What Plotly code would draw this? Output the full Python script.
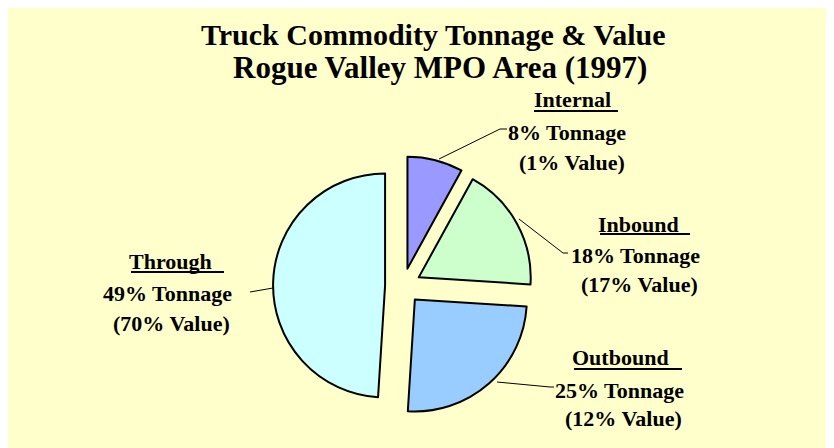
import plotly.graph_objects as go

W, H = 834, 448
OX, OY = 8, 8  # page body margin offset of the figure on screen

# ---- data ----
categories = ["Internal", "Inbound", "Outbound", "Through"]
tonnage_pct = [8, 18, 25, 49]
value_pct = [1, 17, 12, 70]
colors = ["#9999FF", "#CCFFCC", "#99CCFF", "#CCFFFF"]
title_lines = ["Truck Commodity Tonnage & Value", "Rogue Valley MPO Area (1997)"]

FONT = "Liberation Serif, Times New Roman, serif"

def px(x):
    return (x - OX) / W

def py(y):
    return 1 - (y - OY) / H

# pie geometry (screen pixels)
cx, cy, r, pull = 403, 286, 112, 0.16
half = r * (1 + pull)

fig = go.Figure(go.Pie(
    labels=categories,
    values=tonnage_pct,
    sort=False,
    direction="clockwise",
    rotation=0,
    pull=[pull] * len(categories),
    marker=dict(colors=colors, line=dict(color="black", width=2)),
    textinfo="none",
    hoverinfo="label+percent",
    showlegend=False,
    domain=dict(x=[px(cx - half), px(cx + half)], y=[py(cy + half), py(cy - half)]),
))

annotations = []
shapes = []

# title
for txt, xc, yc, fs in zip(title_lines, [433, 440], [35, 67], [30, 31]):
    annotations.append(dict(
        text=f"<b>{txt}</b>", x=px(xc), y=py(yc), xref="paper", yref="paper",
        xanchor="center", yanchor="middle", showarrow=False,
        font=dict(family=FONT, size=fs, color="black"),
    ))

# label layout (screen pixels): name center/y, line2 center/y, line3 center/y, underline
label_pos = {
    "Internal": dict(name=(572, 100), l2=(567, 132), l3=(572, 162), ul=(534, 618, 111)),
    "Inbound": dict(name=(638, 224), l2=(635, 255), l3=(639, 284), ul=(600, 690, 234)),
    "Outbound": dict(name=(620, 357), l2=(619, 390), l3=(623, 418), ul=(574, 682, 369)),
    "Through": dict(name=(170, 261), l2=(167, 293), l3=(171, 323), ul=(131, 224, 272)),
}
leaders = {
    "Internal": [(507, 129), (500, 129), (439, 159)],
    "Inbound": [(568, 253), (563, 253), (519, 219)],
    "Outbound": [(554, 387), (550, 387), (497, 382)],
    "Through": [(250, 292), (273, 288)],
}

for cat, t, v in zip(categories, tonnage_pct, value_pct):
    p = label_pos[cat]
    texts = [cat, f"{t}% Tonnage", f"({v}% Value)"]
    for txt, key in zip(texts, ["name", "l2", "l3"]):
        x, y = p[key]
        annotations.append(dict(
            text=f"<b>{txt}</b>", x=px(x), y=py(y), xref="paper", yref="paper",
            xanchor="center", yanchor="middle", showarrow=False,
            font=dict(family=FONT, size=22, color="black"),
        ))
    x0, x1, yu = p["ul"]
    shapes.append(dict(type="line", xref="paper", yref="paper",
                       x0=px(x0), x1=px(x1), y0=py(yu), y1=py(yu),
                       line=dict(color="black", width=2)))
    pts = leaders[cat]
    path = "M " + " L ".join(f"{px(a)},{py(b)}" for a, b in pts)
    shapes.append(dict(type="path", xref="paper", yref="paper", path=path,
                       line=dict(color="black", width=1)))

fig.update_layout(
    width=W, height=H,
    margin=dict(l=0, r=0, t=0, b=0),
    paper_bgcolor="#FFFFCC",
    plot_bgcolor="#FFFFCC",
    annotations=annotations,
    shapes=shapes,
    showlegend=False,
)

fig.write_html("out.html")
